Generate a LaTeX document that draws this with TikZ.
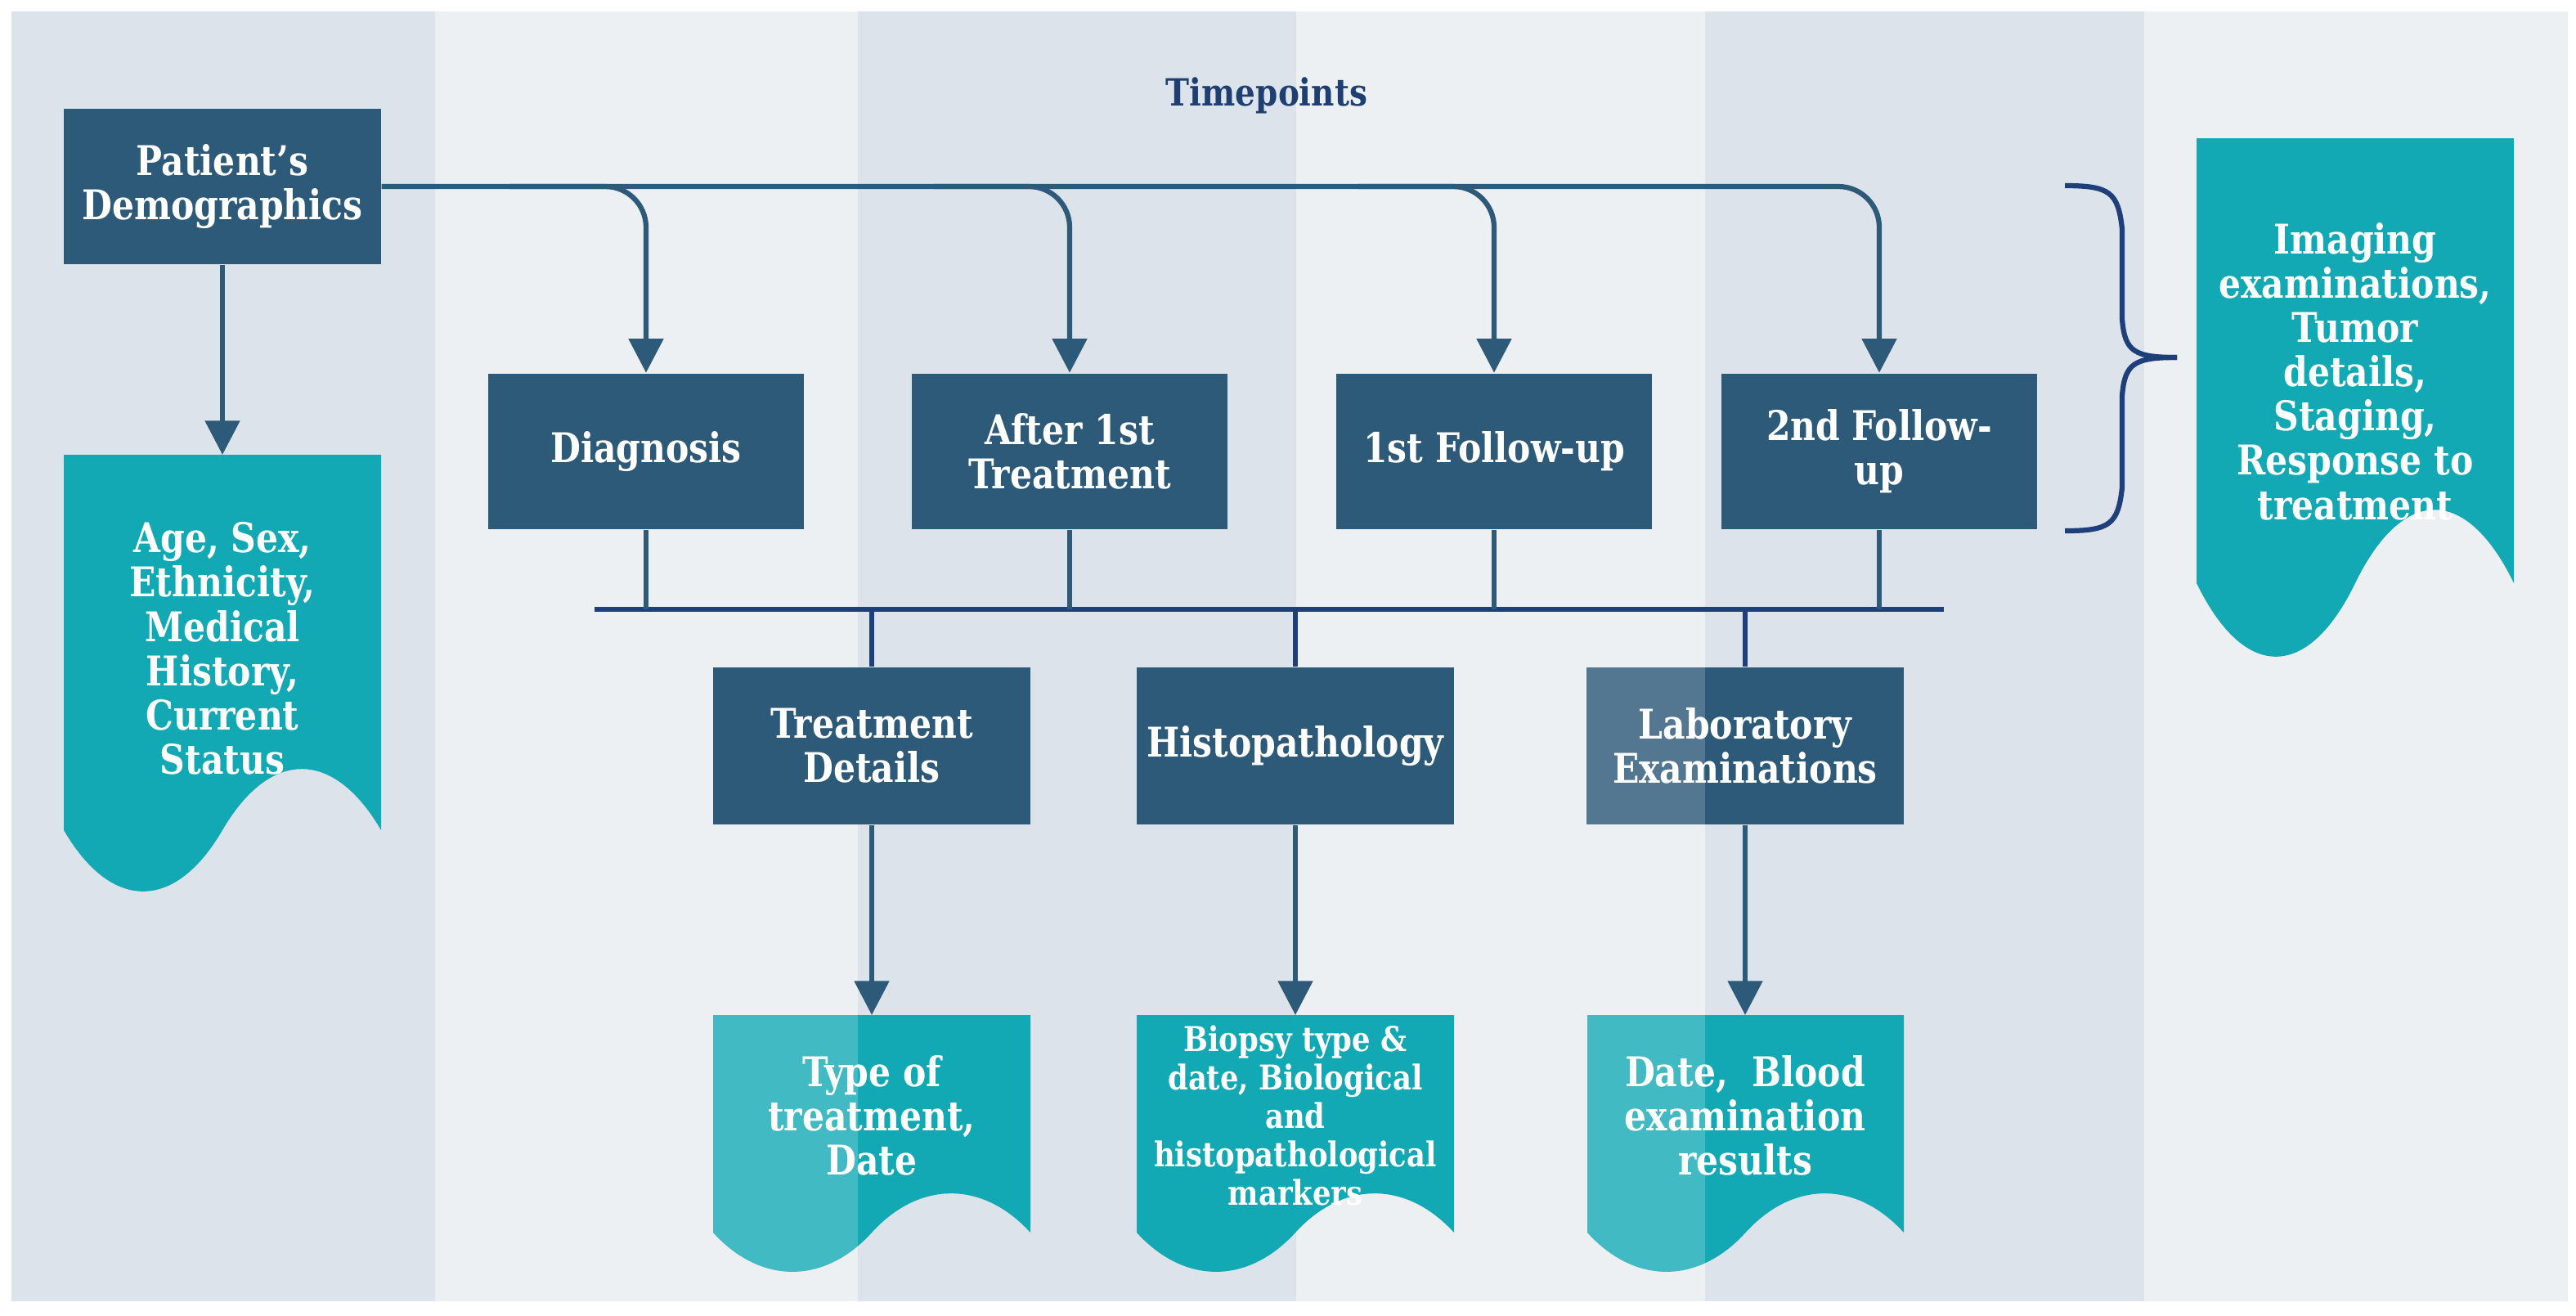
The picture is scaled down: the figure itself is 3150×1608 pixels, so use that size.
\documentclass[tikz,border=0pt]{standalone}
\usepackage{fontspec}
\setmainfont{DejaVu Serif}[FakeStretch=0.85]
\usetikzlibrary{arrows.meta}
\definecolor{stripA}{HTML}{DDE3EA}
\definecolor{stripB}{HTML}{EDF0F3}
\definecolor{boxc}{HTML}{2E5A7A}
\definecolor{teal}{HTML}{12A9B5}
\definecolor{busc}{HTML}{1E3F7A}
\definecolor{titlec}{HTML}{1F3F73}
\newcommand\docpath[5]{% x1 x2 top bottom amplitude
  (#1,#3) -- (#2,#3) -- (#2,#4)
  .. controls ({#1+0.85*(#2-#1)},{#4-1.33*#5}) and ({#1+0.65*(#2-#1)},{#4-1.33*#5}) .. ({#1+0.5*(#2-#1)},#4)
  .. controls ({#1+0.35*(#2-#1)},{#4+1.33*#5}) and ({#1+0.15*(#2-#1)},{#4+1.33*#5}) .. (#1,#4) -- cycle}
\begin{document}
\begin{tikzpicture}[x=0.24pt,y=-0.24pt,
  box/.style={fill=boxc,text=white,font=\bfseries\fontsize{12}{13}\selectfont,align=center,inner sep=0},
  txt/.style={text=white,font=\bfseries\fontsize{12}{13}\selectfont,align=center},
  ln/.style={draw=boxc,line width=1.5pt},
  arr/.style={ln,-{Triangle[length=10pt,width=10pt]}},
  bus/.style={draw=busc,line width=1.5pt}]
\useasboundingbox (0,0) rectangle (3150,1608);
\fill[white] (0,0) rectangle (3150,1608);
\fill[stripA] (14,14) rectangle (532,1591);
\fill[stripB] (532,14) rectangle (1049,1591);
\fill[stripA] (1049,14) rectangle (1585,1591);
\fill[stripB] (1585,14) rectangle (2085,1591);
\fill[stripA] (2085,14) rectangle (2622,1591);
\fill[stripB] (2622,14) rectangle (3140,1591);
\node[text=titlec,font=\bfseries\fontsize{11}{13}\selectfont] (title) at (1549,117) {Timepoints};
% patient
\node[box,minimum width=93pt,minimum height=45.6pt] (pat) at (272,228) {Patient's\\Demographics};
\fill[teal] \docpath{78}{466}{556}{1015}{75};
\node[txt] (age) at (272,793) {Age, Sex,\\Ethnicity,\\Medical\\History,\\Current\\Status};
\coordinate (agetop) at (272,556);
\draw[arr] (pat.south) -- (agetop);
% timepoints
\foreach \n/\x/\t in {tb1/790/Diagnosis,tb2/1308/{After 1st\\Treatment},tb3/1827/{1st Follow-up},tb4/2298/{2nd Follow-\\up}}{
  \node[box,minimum width=92.6pt,minimum height=45.8pt] (\n) at (\x,552) {\t};}
\draw[arr,rounded corners=12pt] (pat.east) -- (tb4.north |- pat.east) -- (tb4.north);
\foreach \n in {tb1,tb2,tb3}{
  \draw[arr,rounded corners=12pt] ([xshift=-40pt]\n.north |- pat.east) -- (\n.north |- pat.east) -- (\n.north);}
% brace
\draw[busc,line width=1.5pt] (2525,227) .. controls (2580,227) and (2590,235) .. (2595,280) -- (2595,390) .. controls (2598,430) and (2610,437) .. (2662,437);
\draw[busc,line width=1.5pt] (2525,649) .. controls (2580,649) and (2590,641) .. (2595,596) -- (2595,484) .. controls (2598,444) and (2610,437) .. (2662,437);
% right doc
\fill[teal] \docpath{2686}{3074}{169}{713}{90};
\node[txt] (img) at (2880,454) {Imaging\\examinations,\\Tumor\\details,\\Staging,\\Response to\\treatment};
% bus
\coordinate (busL) at (727,745);
\coordinate (busR) at (2377,745);
\draw[bus] (busL) -- (busR);
\foreach \n in {tb1,tb2,tb3,tb4}{\draw[ln] (\n.south) -- (\n.south |- busL);}
% second level
\foreach \n/\x/\t in {sb1/1066/{Treatment\\Details},sb2/1584/Histopathology,sb3/2134/{Laboratory\\Examinations}}{
  \node[box,minimum width=93pt,minimum height=46pt] (\n) at (\x,912) {\t};
  \draw[bus] (\n.north |- busL) -- (\n.north);}
\fill[white,opacity=0.18] (sb3.south west) rectangle (2085,816);
% docs
\fill[teal] \docpath{872}{1260}{1241}{1507}{48};
\fill[teal] \docpath{1390}{1778}{1241}{1507}{48};
\fill[teal] \docpath{1941}{2328}{1241}{1507}{48};
\begin{scope}
\clip (872,1200) rectangle (1049,1600);
\fill[white,opacity=0.2] \docpath{872}{1260}{1241}{1507}{48};
\end{scope}
\begin{scope}
\clip (1941,1200) rectangle (2085,1600);
\fill[white,opacity=0.2] \docpath{1941}{2328}{1241}{1507}{48};
\end{scope}
\node[txt] (d1) at (1066,1364) {Type of\\treatment,\\Date};
\node[txt,font=\bfseries\fontsize{10}{11.3}\selectfont] (d2) at (1584,1364) {Biopsy type \&\\date, Biological\\and\\histopathological\\markers};
\node[txt] (d3) at (2134,1364) {Date,~ Blood\\examination\\results};
\foreach \s/\x in {sb1/1066,sb2/1584,sb3/2134}{
  \coordinate (\s t) at (\x,1241);
  \draw[arr] (\s.south) -- (\s t);}
\end{tikzpicture}
\end{document}
